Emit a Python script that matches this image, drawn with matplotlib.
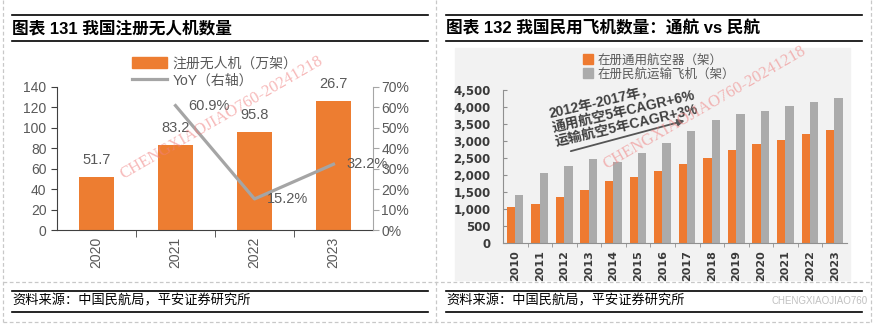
import numpy as np
import matplotlib
matplotlib.use("Agg")
import matplotlib.pyplot as plt
from matplotlib.lines import Line2D
from matplotlib.patches import Patch, Rectangle

plt.rcParams['font.family'] = ['Liberation Sans', 'Noto Sans CJK SC']

# figure size in pixels (used to place things like in the reference)
W, H = 878, 326

# left chart: registered drones
drone_years = ['2020', '2021', '2022', '2023']
drone_count = [51.7, 83.2, 95.8, 126.7]
drone_labels = ['51.7', '83.2', '95.8', '26.7']
yoy_years = ['2021', '2022', '2023']
yoy_pct = [60.9, 15.2, 32.2]

# right chart: general aviation vs airline fleet
fleet_years = ['2010', '2011', '2012', '2013', '2014', '2015', '2016',
               '2017', '2018', '2019', '2020', '2021', '2022', '2023']
ga_fleet = [1050, 1150, 1350, 1560, 1830, 1930, 2130,
            2320, 2510, 2730, 2900, 3040, 3210, 3330]
airline_fleet = [1400, 2060, 2260, 2480, 2370, 2650, 2940,
                 3280, 3610, 3800, 3880, 4040, 4140, 4270]

ORANGE = '#ED7D31'
GRAY = '#A5A5A5'
TXT = '#595959'


def fx(px):
  return px / W


def fy(py):
  return 1 - py / H


def hline(fig, x0, x1, y, **kw):
  fig.add_artist(Line2D([fx(x0), fx(x1)], [fy(y), fy(y)], transform=fig.transFigure, **kw))


def vline(fig, x, y0, y1, **kw):
  fig.add_artist(Line2D([fx(x), fx(x)], [fy(y0), fy(y1)], transform=fig.transFigure, **kw))


fig = plt.figure(figsize=(W / 100, H / 100), dpi=100)
fig.patch.set_facecolor('white')

# dashed page frame
dash = dict(color='#c8c8c8', lw=0.9, ls=(0, (3, 2)))
for xv in (3, 436, 871):
  vline(fig, xv, 0, 322, **dash)
hline(fig, 3, 871, 282, **dash)
hline(fig, 3, 871, 322, **dash)

# title / source rules
for x0, x1 in ((12, 428), (446, 862)):
  for yv in (15, 40.5, 290.5, 311.5):
    hline(fig, x0, x1, yv, color='black', lw=1.2)

fig.text(fx(12), fy(28), '图表 131 我国注册无人机数量', fontsize=12, fontweight='bold',
         va='center', ha='left')
fig.text(fx(446), fy(28), '图表 132 我国民用飞机数量：通航 vs 民航', fontsize=12,
         fontweight='bold', va='center', ha='left')
fig.text(fx(12), fy(301), '资料来源：中国民航局，平安证券研究所', fontsize=9.5, va='center')
fig.text(fx(446), fy(301), '资料来源：中国民航局，平安证券研究所', fontsize=9.5, va='center')

# ---------------- left chart ----------------
ax1 = fig.add_axes([fx(57), fy(230), fx(373) - fx(57), fy(87) - fy(230)])
x = np.arange(len(drone_years))
ax1.bar(x, drone_count, width=0.44, color=ORANGE, zorder=2)
ax1.set_xlim(-0.5, len(drone_years) - 0.5)
ax1.set_ylim(0, 140)
ax1.set_yticks(np.arange(0, 141, 20))
ax1.set_xticks(x)
ax1.set_xticklabels(drone_years, rotation=90, fontsize=10, color=TXT)
ax1.set_xticks([0.5, 1.5, 2.5], minor=True)
ax1.tick_params(axis='x', which='major', length=0, pad=5)
ax1.tick_params(axis='x', which='minor', length=5, color='#404040')
ax1.tick_params(axis='y', length=4, color='#404040', labelsize=10, labelcolor=TXT)
for s in ('top', 'right'):
  ax1.spines[s].set_visible(False)
for s in ('left', 'bottom'):
  ax1.spines[s].set_color('#404040')
for xi, v, lab in zip(x, drone_count, drone_labels):
  ax1.annotate(lab, (xi, v), xytext=(0, 7), textcoords='offset points',
               ha='center', va='bottom', fontsize=10.5, color=TXT)

ax2 = ax1.twinx()
yx = [drone_years.index(y) for y in yoy_years]
ax2.plot(yx, yoy_pct, color=GRAY, lw=2.3, zorder=3)
ax2.set_ylim(0, 70)
ax2.set_yticks(np.arange(0, 71, 10))
ax2.yaxis.set_major_formatter(lambda v, p: f'{v:.0f}%')
ax2.tick_params(axis='y', length=4, color='#a6a6a6', labelsize=10, labelcolor=TXT, pad=2)
for s in ('top', 'left', 'bottom'):
  ax2.spines[s].set_visible(False)
ax2.spines['right'].set_color('#a6a6a6')
for xi, v in zip(yx, yoy_pct):
  ax2.annotate(f'{v}%', (xi, v), xytext=(9, 0), textcoords='offset points',
               ha='left', va='center', fontsize=10.5, color=TXT)

fig.legend(handles=[Patch(color=ORANGE), Line2D([], [], color=GRAY, lw=2.3)],
           labels=['注册无人机（万架）', 'YoY（右轴）'], loc='center',
           bbox_to_anchor=(fx(215), fy(72)), frameon=False, fontsize=10,
           labelcolor=TXT, handlelength=2.5, handleheight=0.9, labelspacing=0.25,
           handletextpad=0.4, borderaxespad=0)

# ---------------- right chart ----------------
fig.patches.append(Rectangle((fx(455), fy(280)), fx(850) - fx(455), fy(48) - fy(280),
                             transform=fig.transFigure, color='#f2f2f2', zorder=-5))

ax3 = fig.add_axes([fx(503), fy(243), fx(847) - fx(503), fy(90) - fy(243)])
ax3.patch.set_alpha(0)
xf = np.arange(len(fleet_years))
ax3.bar(xf - 0.18, ga_fleet, width=0.34, color='#EE7A30', zorder=2)
ax3.bar(xf + 0.16, airline_fleet, width=0.34, color='#ABABAB', zorder=2)
ax3.set_xlim(-0.5, len(fleet_years) - 0.5)
ax3.set_ylim(0, 4500)
ax3.set_yticks(np.arange(0, 4501, 500))
ax3.yaxis.set_major_formatter(lambda v, p: f'{v:,.0f}')
ax3.set_xticks(xf)
ax3.set_xticks(xf[:-1] + 0.5, minor=True)
ax3.set_xticklabels(fleet_years, rotation=90, fontsize=8, fontweight='bold',
                    color='#3a3a3a', family='DejaVu Sans')
ax3.tick_params(axis='y', direction='in', length=3, color='#909090', labelsize=8.5,
                labelcolor='#3a3a3a', pad=9)
for lab in ax3.get_yticklabels():
  lab.set_fontweight('bold')
  lab.set_family('DejaVu Sans')
ax3.tick_params(axis='x', which='major', length=0, pad=5)
ax3.tick_params(axis='x', which='minor', length=3, color='#909090')
for s in ('top', 'right'):
  ax3.spines[s].set_visible(False)
for s in ('left', 'bottom'):
  ax3.spines[s].set_color('#909090')

fig.legend(handles=[Patch(color='#EE7A30'), Patch(color='#ABABAB')],
           labels=['在册通用航空器（架）', '在册民航运输飞机（架）'], loc='upper left',
           bbox_to_anchor=(fx(578), fy(49)), frameon=False, fontsize=9,
           labelcolor=TXT, handlelength=0.8, handleheight=0.8, labelspacing=0.15,
           handletextpad=0.4, borderaxespad=0)

ax3.annotate('', xy=(7.0, 3620), xytext=(2.15, 2680),
             arrowprops=dict(arrowstyle='-|>', color='#555555', lw=1.3, mutation_scale=10))
fig.text(fx(624), fy(112), '2012年-2017年，\n通用航空5年CAGR+6%\n运输航空5年CAGR+3%',
         rotation=13, ha='center', va='center', multialignment='left', fontsize=10,
         fontweight='bold', color='#404040', linespacing=1.05)

# watermarks
wm = dict(family='Liberation Serif', fontsize=12, color='#f08080', alpha=0.55,
          ha='center', va='center', rotation=30)
fig.text(fx(222), fy(118), 'CHENGXIAOJIAO760-20241218', **wm)
fig.text(fx(705), fy(108), 'CHENGXIAOJIAO760-20241218', **wm)
fig.text(fx(868), fy(301), 'CHENGXIAOJIAO760', fontsize=7, color='#c0c0c0',
         ha='right', va='center')

fig.savefig('out.png', dpi=100)
